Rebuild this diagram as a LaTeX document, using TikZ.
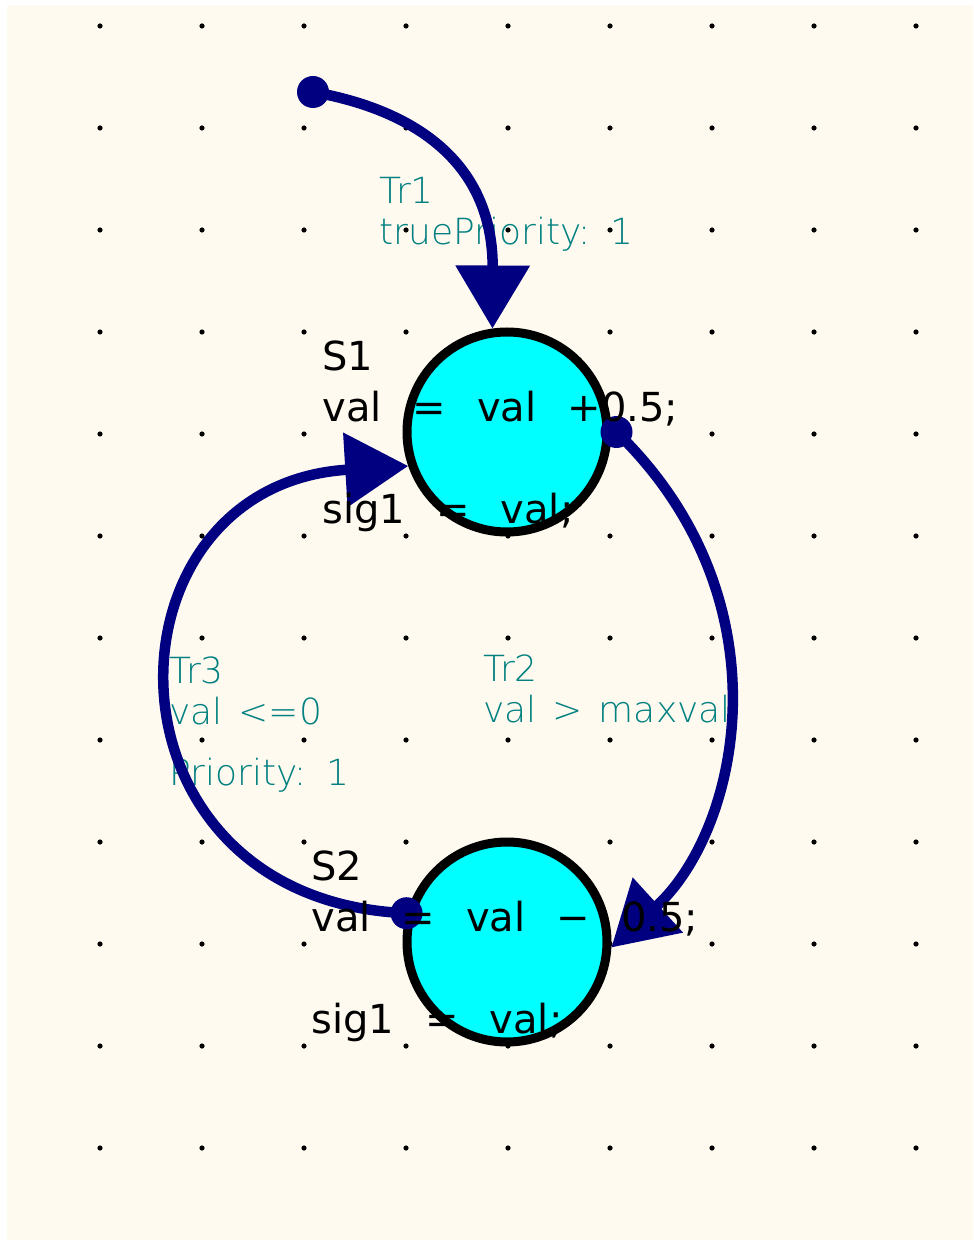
\documentclass[tikz,border=0pt]{standalone}
\usepackage{fontspec}
\setmainfont{DejaVu Sans}
\newfontfamily\trfont{DejaVu Sans ExtraLight}
\usetikzlibrary{arrows.meta}
\definecolor{paper}{HTML}{FFFAF0}
\definecolor{navy}{HTML}{000080}
\definecolor{stcyan}{HTML}{00FFFF}
\definecolor{trteal}{HTML}{008080}
\newcommand\stfont{\fontsize{20}{25.5}\selectfont\spaceskip=15.5pt\relax}
\newcommand\trlabelfont{\trfont\fontsize{18}{19.5}\selectfont\spaceskip=8pt\relax}

\begin{document}
\begin{tikzpicture}[
  x=0.5pt, y=-0.5pt,
  state/.style={circle, draw=black, fill=stcyan, line width=4.5pt, minimum size=100pt, inner sep=0pt},
  stxt/.style={anchor=north west, inner sep=0pt, align=left, font=\stfont},
  trtxt/.style={anchor=north west, inner sep=0pt, align=left, text=trteal, font=\trlabelfont},
  trans/.style={draw=navy, line width=5.25pt, -{Triangle[length=31.5pt, width=36pt]}},
  dot/.style={circle, fill=navy, inner sep=0pt, minimum size=16pt}
]
\useasboundingbox (0,0) rectangle (973,1240);
\fill[paper] (7,5) rectangle (973,1240);
\foreach \gx in {0,...,8}
  \foreach \gy in {0,...,11}
    \fill (100+102*\gx, 26+102*\gy) circle (1.3pt);

% transition labels
\node[trtxt] (tr1) at (379,175.7) {\strut Tr1\\truePriority: 1};
\node[trtxt] (tr2) at (483,653.7) {\strut Tr2\\val > maxval};
\node[trtxt] (tr3) at (169,655.4) {\strut Tr3\\val <=0\\[11pt]Priority: 1};

% states
\node[state] (s1) at (507,432) {};
\node[state] (s2) at (507,942) {};

% transitions
\node[dot] (init) at (313,92) {};
\node[dot] (t2src) at ([xshift=2.5pt]s1.east) {};
\node[dot] (t3src) at (s2.164) {};
\draw[trans] (init.center) .. controls (425,112) and (493,170) .. (s1.98);
\draw[trans] (t2src.center) .. controls (790,600) and (740,830) .. (s2.-3);
\draw[trans] (t3src.center) .. controls (90,900) and (95,485) .. (s1.199);

% state actions
\node[stxt] (s1txt) at (322,334.3) {\strut S1\\val = val +0.5;\\[25.5pt]sig1 = val;};
\node[stxt] (s2txt) at (311,844.3) {\strut S2\\val = val − 0.5;\\[25.5pt]sig1 = val;};
\end{tikzpicture}
\end{document}
